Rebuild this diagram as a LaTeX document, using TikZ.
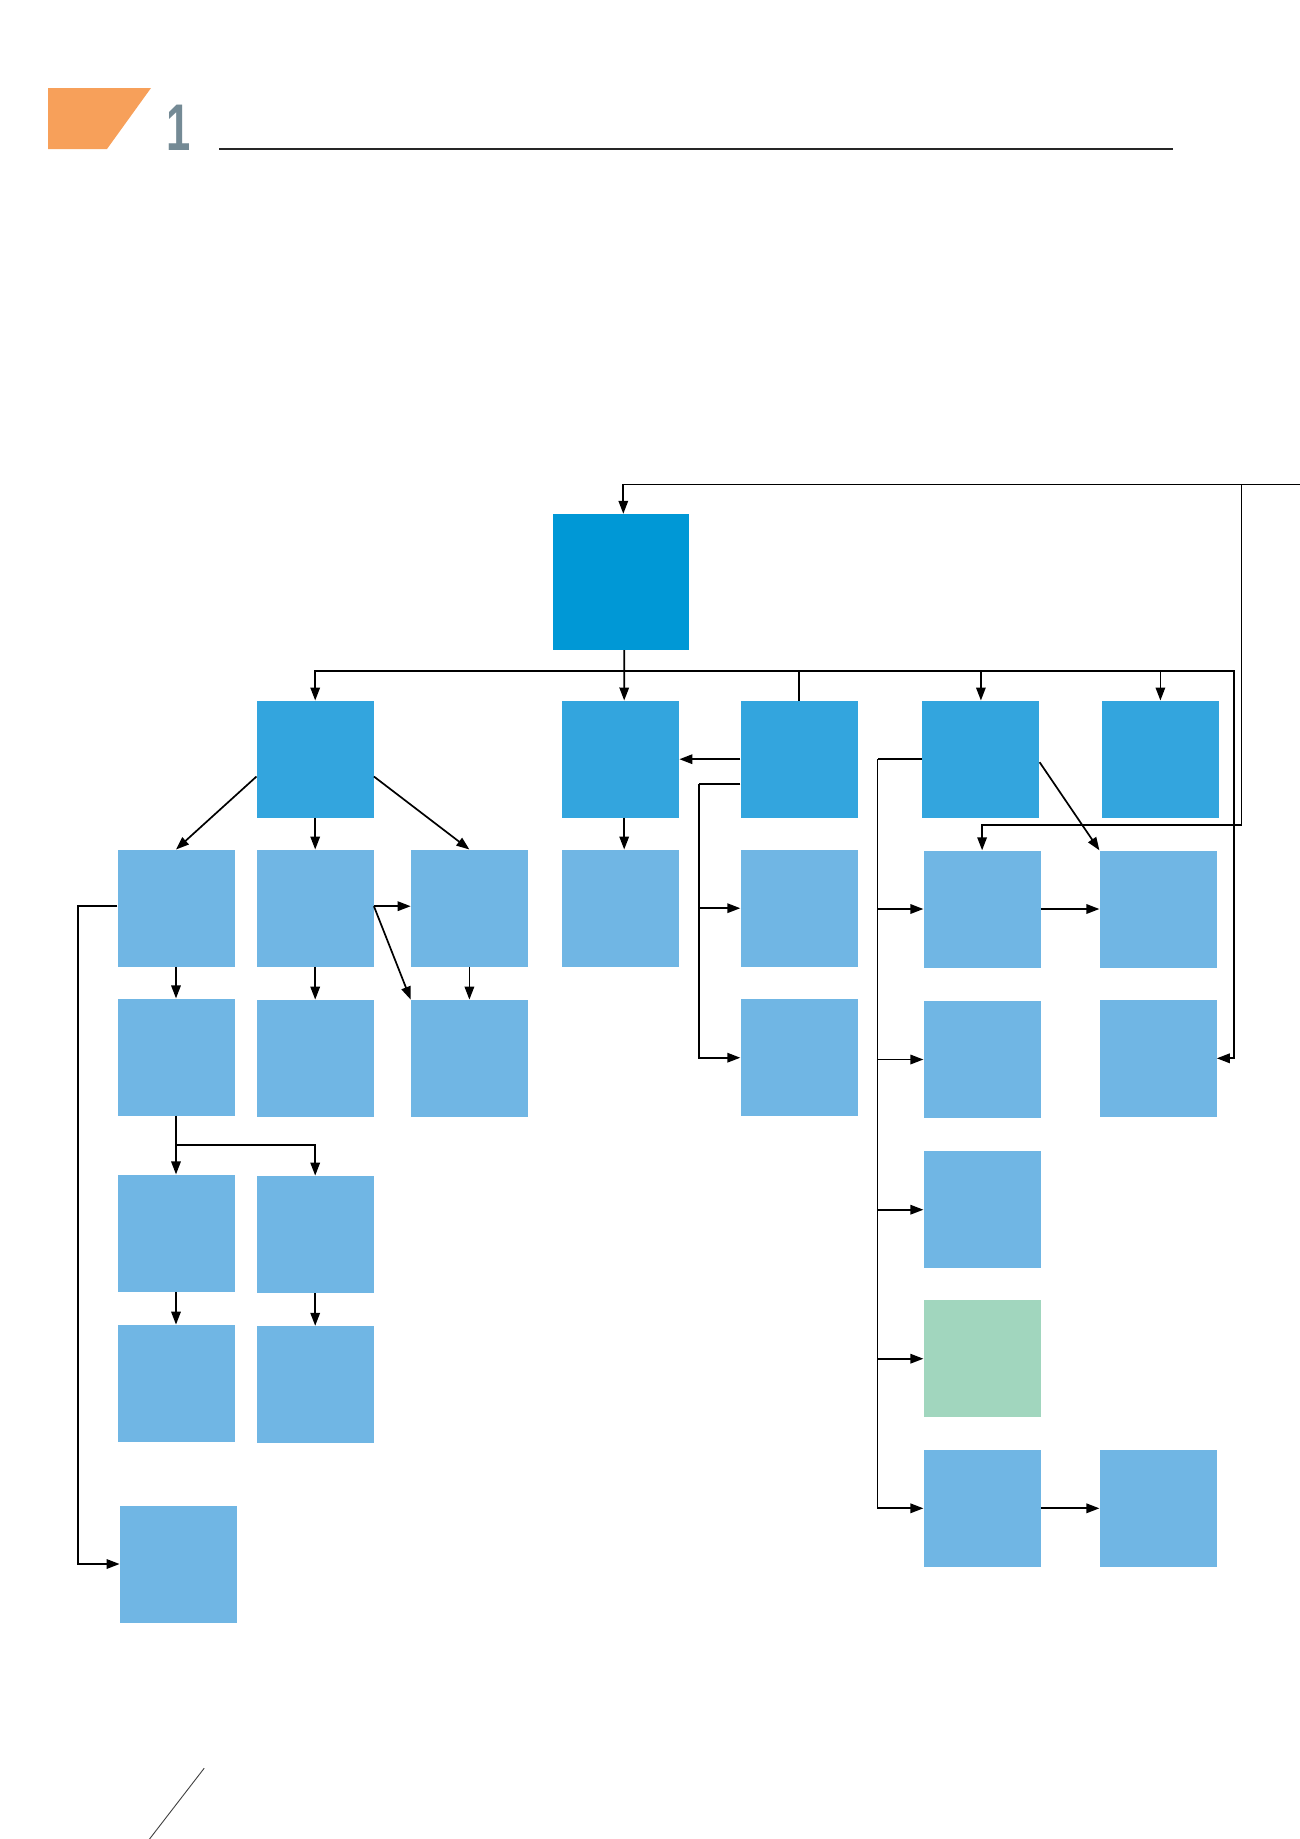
\documentclass[tikz,border=0pt]{standalone}
\usepackage{fontspec}
\setsansfont{Liberation Sans}
\usetikzlibrary{arrows.meta,calc}
\definecolor{cdark}{HTML}{0098D6}
\definecolor{cmid}{HTML}{33A5DE}
\definecolor{clight}{HTML}{70B6E4}
\definecolor{cgreen}{HTML}{A1D6BE}
\definecolor{corange}{HTML}{F7A05A}
\definecolor{cone}{HTML}{748A95}
\tikzset{
  box/.style={rectangle, inner sep=0pt, minimum width=117pt, minimum height=117pt, draw=none},
  topbox/.style={box, fill=cdark, minimum width=136pt, minimum height=136pt},
  midbox/.style={box, fill=cmid},
  lightbox/.style={box, fill=clight},
  greenbox/.style={box, fill=cgreen},
  arr/.style={-{Triangle[length=13pt,width=9.5pt]}, line width=1.7pt, black},
  ln/.style={line width=1.7pt, black},
}
\begin{document}
\begin{tikzpicture}[x=1pt,y=-1pt]
\useasboundingbox (0,0) rectangle (1300,1839);
% header
\fill[corange] (48,88) -- (151,88) -- (107,149) -- (48,149) -- cycle;
\node[anchor=base, text=cone, font=\fontsize{66}{66}\selectfont\sffamily\bfseries, inner sep=0pt] (num) at (179,150) {\scalebox{0.66}[1]{1}};
\draw[line width=1.2pt, black!85] (219,149) -- (1173,149);
% boxes
\node[topbox] (top) at (620.8,582) {};
\node[midbox] (a) at (315.2,759.2) {};
\node[midbox] (b) at (620.7,759.2) {};
\node[midbox] (c) at (799,759.2) {};
\node[midbox] (d) at (980.9,759.2) {};
\node[midbox] (e) at (1160.4,759.2) {};
\node[lightbox] (l1) at (176,908.2) {};
\node[lightbox] (l2) at (315.2,908.2) {};
\node[lightbox] (l3) at (469.4,908.2) {};
\node[lightbox] (b1) at (620.7,908.2) {};
\node[lightbox] (c1) at (799,908.2) {};
\node[lightbox] (d1) at (982.1,909) {};
\node[lightbox] (e1) at (1158.1,909) {};
\node[lightbox] (l1b) at (176,1057.1) {};
\node[lightbox] (l2b) at (315.2,1058.3) {};
\node[lightbox] (l3b) at (469.4,1058.3) {};
\node[lightbox] (c2) at (799,1057.7) {};
\node[lightbox] (d2) at (982.1,1059.5) {};
\node[lightbox] (e2) at (1158.1,1058.3) {};
\node[lightbox] (l1c) at (176,1233.1) {};
\node[lightbox] (l2c) at (315.2,1234.3) {};
\node[lightbox] (d3) at (982.1,1209.7) {};
\node[lightbox] (l1d) at (176,1383.3) {};
\node[lightbox] (l2d) at (315.2,1384.5) {};
\node[greenbox] (d4) at (982.1,1358.7) {};
\node[lightbox] (l1e) at (178.3,1564) {};
\node[lightbox] (d5) at (982.1,1508.3) {};
\node[lightbox] (d5b) at (1158.1,1508.3) {};
% feedback lines from the right
\coordinate (rin) at (1300,484.6);
\coordinate (j1) at (1241.4,484.6);
\draw[arr] (rin) -| ([xshift=2.5pt]top.north);
\draw[arr] (j1) -- (1241.4,824.8) -| (d1.north);
% bus
\coordinate (bus) at ([xshift=3.5pt]top.south |- 0,671.1);
\draw[arr] ([xshift=3.5pt]top.south) -- ([xshift=3.5pt]b.north);
\draw[arr] (bus) -| (a.north);
\draw[ln] (bus) -| (c.north);
\draw[arr] (bus) -| (d.north);
\draw[arr] (bus) -| (e.north);
\draw[arr] (bus) -- (1234.3,671.1) |- (e2.east);
% left group
\draw[arr] ([yshift=-76pt]a.north west) -- (l1.north);
\draw[arr] (a.south) -- (l2.north);
\draw[arr] ([yshift=-76pt]a.north east) -- (l3.north);
\draw[arr] ([yshift=2pt]l2.east) -- ([yshift=2pt]l3.west);
\draw[arr] ([yshift=2pt]l2.east) -- (l3b.north west);
\draw[arr] (l1.south) -- (l1b.north);
\draw[arr] (l2.south) -- (l2b.north);
\draw[arr] (l3.south) -- (l3b.north);
\draw[arr] ([yshift=2pt]l1.west) -- ++(-39.6,0) |- (l1e.west);
\draw[arr] (l1b.south) -- (l1c.north);
\draw[arr] (l1b.south) -- ++(0,29) -| (l2c.north);
\draw[arr] (l1c.south) -- (l1d.north);
\draw[arr] (l2c.south) -- (l2d.north);
% middle group
\draw[arr] (c.west) -- (b.east);
\draw[arr] ([xshift=3.5pt]b.south) -- ([xshift=3.5pt]b1.north);
\coordinate (cv) at ([xshift=-41pt,yshift=-24.6pt]c.west);
\draw[ln] ([yshift=-24.6pt]c.west) -- (cv);
\draw[arr] (cv) |- (c1.west);
\draw[arr] (cv) |- (c2.west);
% right group
\coordinate (dv) at ([xshift=-44.6pt]d.west);
\draw[ln] (d.west) -- (dv);
\draw[arr] (dv) |- (d1.west);
\draw[arr] (dv) |- (d2.west);
\draw[arr] (dv) |- (d3.west);
\draw[arr] (dv) |- (d4.west);
\draw[arr] (dv) |- (d5.west);
\draw[arr] ([yshift=-3pt]d.east) -- (e1.north west);
\draw[arr] (d1.east) -- (e1.west);
\draw[arr] (d5.east) -- (d5b.west);
% bottom slash
\draw[line width=0.9pt, black!75] (204.2,1768.2) -- (149,1839.7);
\end{tikzpicture}
\end{document}
